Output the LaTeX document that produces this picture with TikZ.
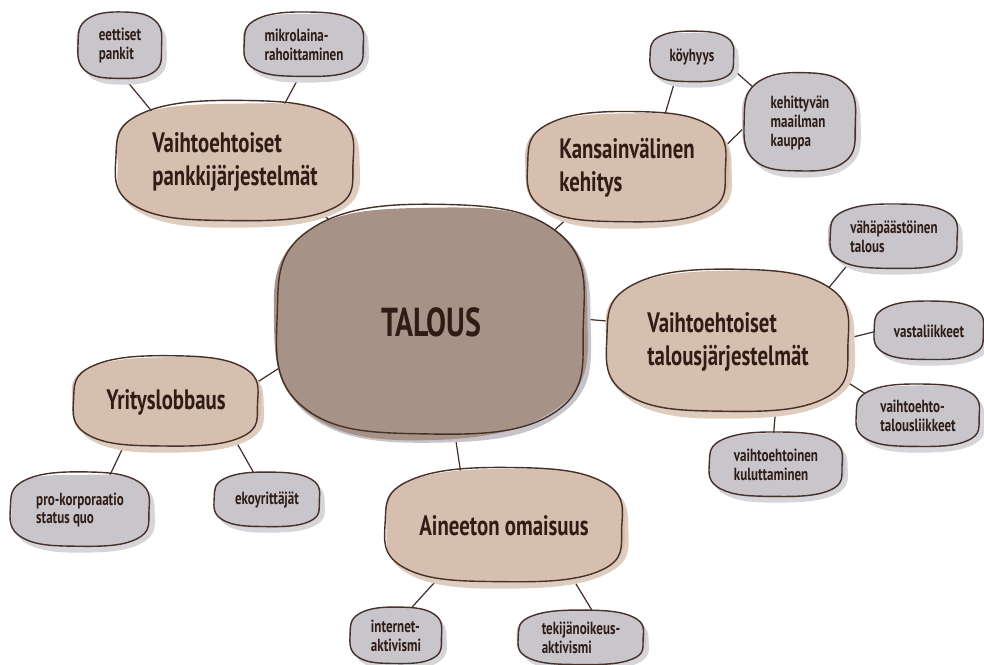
\documentclass[tikz,border=0pt]{standalone}
\usepackage{fontspec}
\setmainfont{PT Sans}[FakeStretch=0.74]
\usetikzlibrary{calc,shapes.geometric}
\definecolor{taltext}{RGB}{48,28,22}
\definecolor{talline}{RGB}{70,48,42}
\definecolor{talcore}{RGB}{166,146,134}
\definecolor{talcoreshade}{RGB}{198,196,202}
\definecolor{taltan}{RGB}{214,191,174}
\definecolor{taltanshade}{RGB}{222,204,190}
\definecolor{talgray}{RGB}{200,198,203}
\definecolor{talgrayshade}{RGB}{214,213,217}
\pgfdeclarelayer{links}
\pgfdeclarelayer{blobs}
\pgfsetlayers{links,blobs,main}

% hand-drawn blob behind a node: node, fill, shadow
\newcommand{\drawblob}[3]{%
  \begin{pgfonlayer}{blobs}
  \begin{scope}[shift={(#1.center)},x={($(#1.east)-(#1.center)$)},y={($(#1.north)-(#1.center)$)}]
    \fill[#3,xshift=2.5pt,yshift=-3pt] plot[smooth cycle,tension=0.75] coordinates
      {(1,0.02) (0.82,-0.74) (0.02,-1) (-0.8,-0.78) (-1,0) (-0.82,0.76) (0,0.98) (0.8,0.8)};
    \fill[#2] plot[smooth cycle,tension=0.75] coordinates
      {({1+0.03*rand},0.02) (0.82,-0.74) ({0.02+0.1*rand},{-1+0.04*rand}) (-0.8,-0.78) ({-1+0.03*rand},0) (-0.82,0.76) ({0.1*rand},{0.98+0.04*rand}) (0.8,0.8)};
    \draw[talline,line width=0.8pt] plot[smooth cycle,tension=0.75] coordinates
      {(0.98,-0.04) (0.8,-0.78) (-0.04,-0.97) (-0.82,-0.74) (-0.99,0.06) (-0.78,0.8) (0.06,1.02) (0.83,0.76)};
  \end{scope}
  \end{pgfonlayer}}

\begin{document}
\begin{tikzpicture}[x=0.2mm,y=-0.2mm,
  core/.style={ellipse,inner sep=0pt,text=taltext,font=\bfseries\fontsize{23}{26}\selectfont},
  topic/.style={ellipse,inner sep=0pt,align=left,text=taltext,font=\bfseries\fontsize{16}{19}\selectfont},
  leaf/.style={ellipse,inner sep=0pt,align=left,text=taltext,font=\bfseries\fontsize{10}{10.8}\selectfont},
  link/.style={talline,line width=0.7pt}]
\pgfmathsetseed{11}
\useasboundingbox (0,0) rectangle (984,665);

% ================= CENTRE =================
\node[core,minimum width=62mm,minimum height=46mm] (talous) at (431,322) {TALOUS};

% ================= TOPICS =================
\node[topic,minimum width=48mm,minimum height=24mm] (bank) at (235,162) {Vaihtoehtoiset\\pankkijärjestelmät};
\node[topic,minimum width=40mm,minimum height=22mm] (intl) at (627,168) {Kansainvälinen\\kehitys};
\node[topic,minimum width=48.8mm,minimum height=28.4mm] (alt) at (728,342) {Vaihtoehtoiset\\talousjärjestelmät};
\node[topic,minimum width=37.2mm,minimum height=18mm] (lobby) at (166,402) {Yrityslobbaus};
\node[topic,minimum width=46.8mm,minimum height=22.8mm] (ip) at (504,526) {Aineeton omaisuus};

% ================= LEAVES =================
\node[leaf,minimum width=16.8mm,minimum height=13.2mm] (ethic) at (120,46) {eettiset\\pankit};
\node[leaf,minimum width=24mm,minimum height=12.8mm] (micro) at (304,45) {mikrolaina-\\rahoittaminen};
\node[leaf,minimum width=16.8mm,minimum height=10mm] (poor) at (692,57) {köyhyys};
\node[leaf,minimum width=22.4mm,minimum height=19.6mm] (trade) at (800,123) {kehittyvän\\maailman\\kauppa};
\node[leaf,minimum width=25.6mm,minimum height=12.8mm] (lowem) at (894,237) {vähäpäästöinen\\talous};
\node[leaf,minimum width=22mm,minimum height=11.6mm] (counter) at (929,331) {vastaliikkeet};
\node[leaf,minimum width=24.8mm,minimum height=12.4mm] (altmov) at (918,416) {vaihtoehto-\\talousliikkeet};
\node[leaf,minimum width=26.8mm,minimum height=12.8mm] (consume) at (776,465) {vaihtoehtoinen\\kuluttaminen};
\node[leaf,minimum width=28mm,minimum height=14.8mm] (pro) at (80,510) {pro-korporaatio\\status quo};
\node[leaf,minimum width=21.2mm,minimum height=10.8mm] (eco) at (267,500) {ekoyrittäjät};
\node[leaf,minimum width=18.4mm,minimum height=11.2mm] (net) at (396,636) {internet-\\aktivismi};
\node[leaf,minimum width=25.2mm,minimum height=10.8mm] (copy) at (581,638) {tekijänoikeus-\\aktivismi};

% ================= BLOBS =================
\drawblob{talous}{talcore}{talcoreshade}
\foreach \n in {bank,intl,alt,lobby,ip} {\drawblob{\n}{taltan}{taltanshade}}
\foreach \n in {ethic,micro,poor,trade,lowem,counter,altmov,consume,pro,eco,net,copy} {\drawblob{\n}{talgray}{talgrayshade}}

% ================= LINKS =================
\begin{pgfonlayer}{links}
\draw[link] (talous.135) -- (bank.-29);
\draw[link] (talous.36) -- (intl.220);
\draw[link] (talous.1) -- (alt.170);
\draw[link] (talous.196) -- (lobby.11);
\draw[link] (talous.-78) -- (ip.129);
\draw[link] (bank.150) -- (ethic.-81);
\draw[link] (bank.49) -- (micro.-99);
\draw[link] (intl.54) -- (poor.-126);
\draw[link] (intl.11) -- (trade.185);
\draw[link] (poor.-15) -- (trade.143);
\draw[link] (alt.26) -- (lowem.209);
\draw[link] (alt.2) -- (counter.181);
\draw[link] (alt.-17) -- (altmov.158);
\draw[link] (alt.-54) -- (consume.94);
\draw[link] (lobby.225) -- (pro.49);
\draw[link] (lobby.-26) -- (eco.116);
\draw[link] (ip.218) -- (net.62);
\draw[link] (ip.-36) -- (copy.67);
\end{pgfonlayer}
\end{tikzpicture}
\end{document}
